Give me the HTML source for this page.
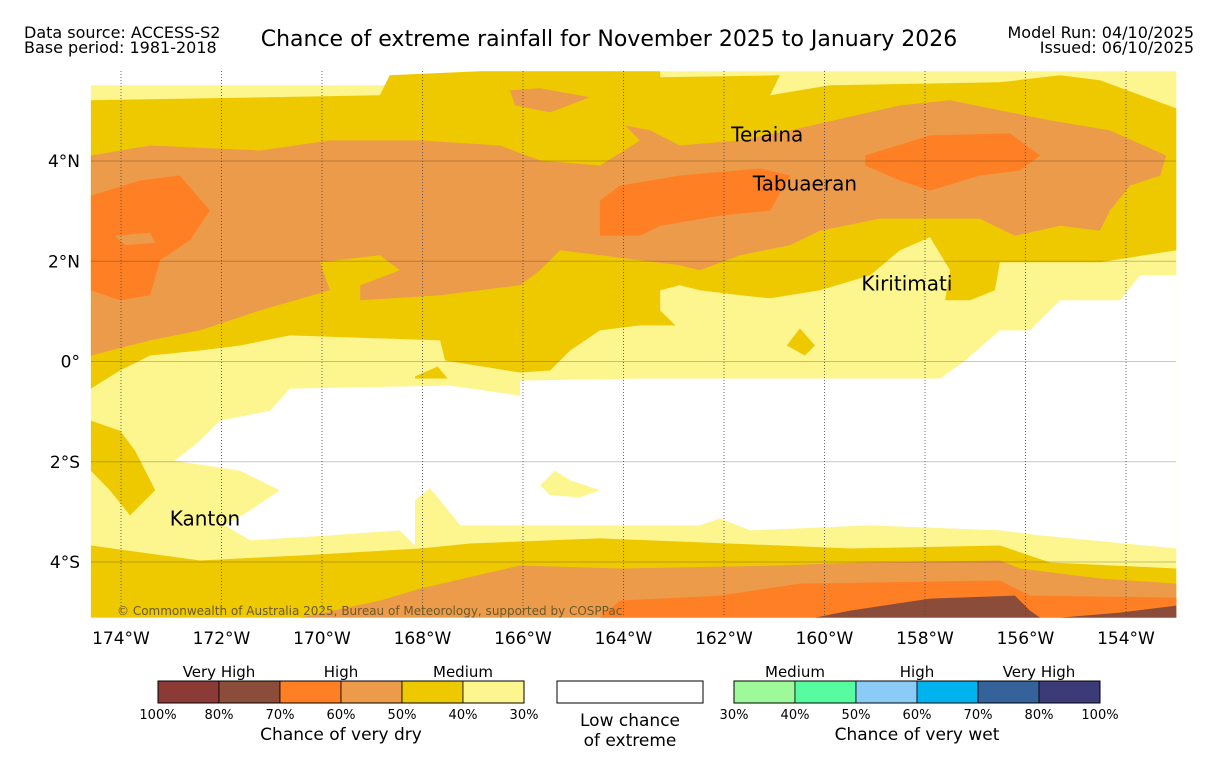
<!DOCTYPE html>
<html><head><meta charset="utf-8"><style>
body{margin:0;background:#fff;width:1219px;height:758px;overflow:hidden;font-family:"DejaVu Sans","Liberation Sans",sans-serif;}
svg text{font-family:"DejaVu Sans","Liberation Sans",sans-serif;}
</style></head><body>
<svg id="chart" width="1219" height="758" xmlns="http://www.w3.org/2000/svg">
<text x="24" y="38" font-size="16">Data source: ACCESS-S2</text>
<text x="24" y="53" font-size="16">Base period: 1981-2018</text>
<text x="609" y="46" font-size="22" text-anchor="middle">Chance of extreme rainfall for November 2025 to January 2026</text>
<text x="1194" y="38" font-size="16" text-anchor="end">Model Run: 04/10/2025</text>
<text x="1194" y="53" font-size="16" text-anchor="end">Issued: 06/10/2025</text>
<g id="map"></g>
<g id="legend"></g>
</svg>
<script>
// lon in degrees West, lat signed
const lonTicks=[174,172,170,168,166,164,162,160,158,156,154];
const lonTickLabels=['174°W','172°W','170°W','168°W','166°W','164°W','162°W','160°W','158°W','156°W','154°W'];
const latTicks=[4,2,0,-2,-4];
const latTickLabels=['4°N','2°N','0°','2°S','4°S'];
const C={ly:'#fdf58e',gold:'#eec900',tan:'#ec9b4b',orange:'#fe7f24',brown:'#8b4c3a'};
const lightYellowZone=[[174.6,5.51],[168.75,5.51],[168.65,5.71],[166.86,5.79],[153.0,5.79],[153.0,-5.11],[174.6,-5.11]];
const lowChanceZone=[[153.0,1.72],[153.72,1.72],[154.12,1.22],[155.31,1.22],[155.91,0.62],[156.51,0.62],[157.2,0.02],[157.7,-0.34],[163.67,-0.34],[166.06,-0.38],[166.06,-0.68],[167.45,-0.48],[170.64,-0.54],[171.03,-0.98],[172.03,-1.18],[172.43,-1.58],[172.93,-1.98],[171.63,-2.18],[170.84,-2.57],[171.43,-2.97],[171.93,-3.27],[171.43,-3.57],[169.84,-3.47],[168.45,-3.37],[168.15,-3.67],[168.15,-2.77],[167.85,-2.53],[167.65,-2.77],[167.25,-3.27],[162.48,-3.27],[162.08,-3.13],[161.48,-3.37],[159.09,-3.27],[156.51,-3.37],[155.71,-3.47],[153.0,-3.73]];
const lightYellowPatch=[[165.66,-2.47],[165.36,-2.18],[165.06,-2.37],[164.47,-2.57],[164.87,-2.71],[165.46,-2.67]];
const goldMain=[[174.6,5.21],[168.85,5.31],[168.65,5.71],[166.86,5.79],[163.27,5.79],[163.27,5.67],[160.89,5.71],[161.08,5.31],[159.89,5.51],[156.51,5.57],[155.31,5.71],[154.52,5.61],[153.0,5.05],[153.0,2.22],[154.52,1.98],[156.51,1.98],[156.61,1.42],[157.1,1.22],[157.6,1.22],[157.5,1.82],[157.9,2.48],[158.5,2.22],[159.09,1.72],[160.09,1.42],[161.08,1.26],[161.68,1.32],[162.48,1.42],[162.88,1.52],[163.27,1.42],[163.27,1.02],[162.97,0.72],[163.67,0.72],[164.47,0.62],[165.06,0.22],[165.46,-0.18],[166.06,-0.22],[167.55,0.02],[167.65,0.42],[170.64,0.52],[171.63,0.32],[172.43,0.22],[173.42,0.12],[174.02,-0.18],[174.6,-0.54]];
const goldBit=[[168.15,-0.3],[167.7,-0.1],[167.5,-0.34],[168.15,-0.34]];
const goldLobe=[[160.75,0.32],[160.49,0.66],[160.19,0.32],[160.39,0.12]];
const goldLeft=[[174.6,-1.18],[174.02,-1.38],[173.72,-1.78],[173.32,-2.57],[173.82,-3.07],[174.22,-2.57],[174.6,-2.18]];
const goldBottom=[[174.6,-3.67],[172.43,-3.97],[170.44,-3.87],[168.05,-3.73],[167.05,-3.63],[164.47,-3.53],[160.89,-3.67],[159.49,-3.73],[156.51,-3.67],[155.51,-4.01],[153.0,-4.13],[153.0,-5.11],[174.6,-5.11]];
const tanMain=[[174.6,4.11],[173.42,4.31],[171.23,4.21],[169.84,4.41],[168.05,4.41],[166.46,4.31],[165.66,4.01],[164.47,3.91],[163.67,4.41],[163.97,4.71],[163.47,4.61],[162.88,4.31],[161.68,4.41],[160.69,4.61],[158.5,5.11],[157.5,5.21],[156.51,5.01],[155.51,4.81],[154.32,4.61],[153.2,4.11],[153.32,3.71],[153.92,3.51],[154.32,3.01],[154.52,2.61],[155.31,2.71],[156.21,2.51],[156.91,2.85],[158.9,2.85],[160.09,2.61],[160.69,2.32],[161.68,2.12],[162.48,1.82],[162.88,1.92],[165.26,2.22],[165.66,1.82],[166.06,1.52],[167.65,1.32],[169.24,1.22],[169.24,1.52],[168.45,1.82],[168.85,2.12],[170.04,1.98],[169.84,1.42],[171.23,1.02],[172.43,0.62],[173.42,0.42],[174.6,0.12]];
const tanTop=[[166.26,5.41],[165.66,5.45],[164.67,5.27],[165.46,4.97],[166.16,5.11]];
const orangeLeft=[[174.6,3.31],[173.62,3.61],[172.83,3.71],[172.23,3.01],[172.63,2.42],[173.22,2.02],[173.42,1.32],[174.02,1.22],[174.6,1.42]];
const tanInner=[[174.12,2.51],[173.42,2.57],[173.32,2.37],[173.92,2.32]];
const orangeCenter=[[164.47,3.21],[164.07,3.51],[162.88,3.71],[161.28,3.85],[160.69,3.71],[161.08,3.01],[162.08,2.91],[163.27,2.71],[163.67,2.51],[164.47,2.51]];
const orangeRight=[[159.19,4.11],[157.9,4.51],[156.31,4.55],[155.71,4.11],[156.11,3.81],[156.91,3.71],[157.9,3.41],[158.5,3.61],[159.19,3.91]];
const tanBottom=[[170.44,-5.11],[168.85,-4.77],[168.05,-4.53],[166.06,-4.07],[164.07,-4.13],[160.89,-4.07],[159.29,-4.01],[156.51,-3.97],[156.11,-4.13],[154.52,-4.33],[153.0,-4.43],[153.0,-5.11]];
const orangeBottom=[[164.47,-5.11],[164.07,-4.77],[162.08,-4.67],[160.49,-4.43],[156.51,-4.37],[155.91,-4.67],[153.0,-4.71],[153.0,-5.11]];
const brownBottom=[[160.19,-5.11],[159.49,-4.97],[157.9,-4.73],[156.21,-4.67],[155.91,-4.97],[155.71,-5.11]];
const brownBottom2=[[155.31,-5.11],[154.12,-5.01],[153.0,-4.87],[153.0,-5.11]];
const places=['Teraina','Tabuaeran','Kiritimati','Kanton'];
const placeLon=[161.14,160.39,158.36,172.33];
const placeLat=[4.39,3.41,1.42,-3.27];

const X0=121,X1=1126,LON0=174,LON1=154,Y0=161,Y1=562,LAT0=4,LAT1=-4;
const xs=l=>X0+(LON0-l)*(X1-X0)/(LON0-LON1);
const ys=a=>Y0+(LAT0-a)*(Y1-Y0)/(LAT0-LAT1);
const NS='http://www.w3.org/2000/svg';
const map=document.getElementById('map');
function mk(tag,attrs,parent){const e=document.createElementNS(NS,tag);for(const k in attrs)e.setAttribute(k,attrs[k]);parent.appendChild(e);return e;}
function poly(pts,fill,name){
  const p=mk('polygon',{points:pts.map(q=>xs(q[0]).toFixed(1)+','+ys(q[1]).toFixed(1)).join(' '),fill:fill},map);
  
  
}
poly(lightYellowZone,C.ly,'medium-dry-30-40-zone');
poly(lowChanceZone,'#fff','low-chance-zone');
poly(lightYellowPatch,C.ly,'medium-dry-patch');
poly(goldMain,C.gold,'dry-40-50-zone');
poly(goldBit,C.gold,'dry-40-50-bit');
poly(goldLobe,C.gold,'dry-40-50-lobe');
poly(goldLeft,C.gold,'dry-40-50-west');
poly(goldBottom,C.gold,'dry-40-50-south');
poly(tanMain,C.tan,'dry-50-60-zone');
poly(tanTop,C.tan,'dry-50-60-north-blob');
poly(orangeLeft,C.orange,'dry-60-70-west');
poly(tanInner,C.tan,'dry-50-60-inner');
poly(orangeCenter,C.orange,'dry-60-70-center');
poly(orangeRight,C.orange,'dry-60-70-east');
poly(tanBottom,C.tan,'dry-50-60-south');
poly(orangeBottom,C.orange,'dry-60-70-south');
poly(brownBottom,C.brown,'dry-70-80-south');
poly(brownBottom2,C.brown,'dry-70-80-southeast');
latTicks.forEach((a,i)=>{
  const l=mk('line',{x1:91,x2:1176,y1:ys(a),y2:ys(a),stroke:'rgba(0,0,0,0.22)','stroke-width':1},map);
  
  
  const t=mk('text',{x:80,y:ys(a)+6,'font-size':17,'text-anchor':'end'},map);
  t.textContent=latTickLabels[i];
  
  
});
lonTicks.forEach((l,i)=>{
  const g=mk('line',{x1:xs(l),x2:xs(l),y1:71,y2:617,stroke:'#444','stroke-width':0.8,'stroke-dasharray':'1,2'},map);
  
  
  const t=mk('text',{x:xs(l),y:644,'font-size':17,'text-anchor':'middle'},map);
  t.textContent=lonTickLabels[i];
  
  
});
places.forEach((n,i)=>{
  const t=mk('text',{x:xs(placeLon[i]),y:ys(placeLat[i]),'font-size':20,'text-anchor':'middle'},map);
  t.textContent=n;
  
  
});
const cr=mk('text',{x:117,y:615,'font-size':12,fill:'#6b5a2a'},map);
cr.textContent='© Commonwealth of Australia 2025, Bureau of Meteorology, supported by COSPPac';



const dryColors=['#8b3a35','#8b4c3a','#fe7f24','#ec9b4b','#eec900','#fdf58e'];
const dryLabels=['100%','80%','70%','60%','50%','40%','30%'];
const wetColors=['#9efa98','#56fc9f','#8acbf8','#00b2ed','#35629a','#3d3a78'];
const wetLabels=['30%','40%','50%','60%','70%','80%','100%'];
const lg=document.getElementById('legend');
function bar(x0,cols,labs,name){
  const w=61;
  cols.forEach((c,i)=>{
    const r=mk('rect',{x:x0+i*w,y:681,width:w,height:22,fill:c,stroke:'#000','stroke-width':0.8},lg);
    
    
  });
  mk('rect',{x:x0,y:681,width:w*cols.length,height:22,fill:'none',stroke:'#000','stroke-width':1},lg);
  labs.forEach((s,i)=>{
    const t=mk('text',{x:x0+i*w,y:719,'font-size':13,'text-anchor':'middle'},lg);
    t.textContent=s;
    
    
  });
}
bar(158,dryColors,dryLabels,'dry-legend');
bar(734,wetColors,wetLabels,'wet-legend');
const wb=mk('rect',{x:557,y:681,width:146,height:22,fill:'#fff',stroke:'#000','stroke-width':1},lg);


const txts=[[219,677,'Very High',15],[341,677,'High',15],[463,677,'Medium',15],[341,740,'Chance of very dry',17],[630,726,'Low chance',17],[630,746,'of extreme',17],[795,677,'Medium',15],[917,677,'High',15],[1039,677,'Very High',15],[917,740,'Chance of very wet',17]];
txts.forEach(a=>{
  const t=mk('text',{x:a[0],y:a[1],'font-size':a[3],'text-anchor':'middle'},lg);
  t.textContent=a[2];
  
  
});
</script>
</body></html>
